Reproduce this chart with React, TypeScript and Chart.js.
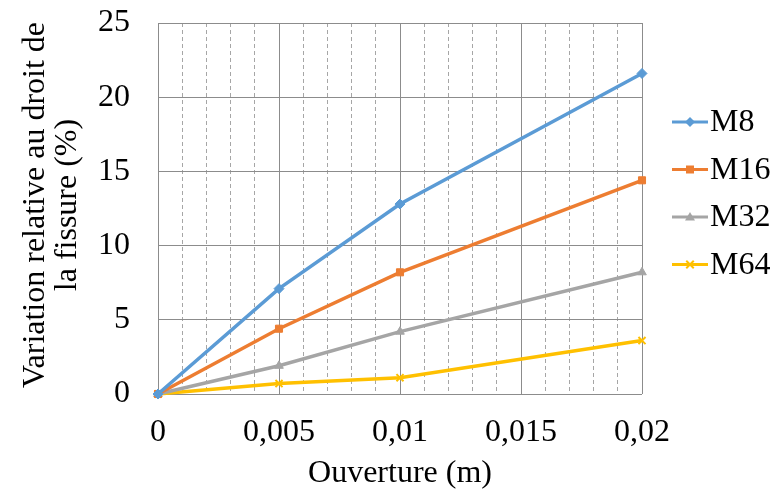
import React, { useEffect, useRef } from 'react';
import { Chart, registerables } from 'chart.js';
Chart.register(...registerables);

const xValues = [0, 0.005, 0.01, 0.02];
const m8 = [0, 7.1, 12.8, 21.6];
const m16 = [0, 4.4, 8.2, 14.4];
const m32 = [0, 1.9, 4.2, 8.2];
const m64 = [0, 0.7, 1.1, 3.6];
const seriesNames = ['M8', 'M16', 'M32', 'M64'];
const seriesValues = [m8, m16, m32, m64];
const seriesColors = ['#5B9BD5', '#ED7D31', '#A5A5A5', '#FFC000'];
const pointStyles = ['rectRot', 'rect', 'triangle', 'crossRot'];
const xTitle = 'Ouverture (m)';
const yTitle = ['Variation relative au droit de', 'la fissure (%)'];
const xMin = 0, xMax = 0.02, xMinorStep = 0.001, xMajorEvery = 5;
const yMin = 0, yMax = 25, yStep = 5;

const FONT = '"Liberation Serif", "Times New Roman", serif';
const FSIZE = 32;

function drawMarker(ctx: CanvasRenderingContext2D, style: string, x: number, y: number, r: number, color: string) {
  ctx.save();
  ctx.fillStyle = color;
  ctx.strokeStyle = color;
  ctx.lineWidth = 2;
  ctx.beginPath();
  if (style === 'rectRot') {
    ctx.moveTo(x, y - r); ctx.lineTo(x + r, y); ctx.lineTo(x, y + r); ctx.lineTo(x - r, y); ctx.closePath(); ctx.fill();
  } else if (style === 'rect') {
    const s = r * 0.8;
    ctx.rect(x - s, y - s, 2 * s, 2 * s); ctx.fill();
  } else if (style === 'triangle') {
    ctx.moveTo(x, y - r); ctx.lineTo(x + r, y + r * 0.7); ctx.lineTo(x - r, y + r * 0.7); ctx.closePath(); ctx.fill();
  } else {
    const s = r * 0.75;
    ctx.moveTo(x - s, y - s); ctx.lineTo(x + s, y + s); ctx.moveTo(x + s, y - s); ctx.lineTo(x - s, y + s); ctx.stroke();
  }
  ctx.restore();
}

const decorPlugin = {
  id: 'decor',
  afterDraw(chart: any) {
    const ctx: CanvasRenderingContext2D = chart.ctx;
    const area = chart.chartArea;
    ctx.save();
    ctx.fillStyle = '#000';
    ctx.font = `${FSIZE}px ${FONT}`;
    ctx.textAlign = 'center';
    ctx.textBaseline = 'middle';
    ctx.fillText(xTitle, (area.left + area.right) / 2, 474);
    ctx.save();
    ctx.translate(0, 205);
    ctx.rotate(-Math.PI / 2);
    ctx.fillText(yTitle[0], 0, 36);
    ctx.fillText(yTitle[1], 0, 68);
    ctx.restore();
    seriesNames.forEach((name, i) => {
      const y = 122 + i * 47.5;
      ctx.strokeStyle = seriesColors[i];
      ctx.lineWidth = 3;
      ctx.beginPath();
      ctx.moveTo(672, y);
      ctx.lineTo(708, y);
      ctx.stroke();
      drawMarker(ctx, pointStyles[i], 690, y, 5, seriesColors[i]);
      ctx.fillStyle = '#000';
      ctx.textAlign = 'left';
      ctx.fillText(name, 710, y + 1);
    });
    ctx.restore();
  },
};

const isMajor = (v: number) => Math.round(v / xMinorStep) % xMajorEvery === 0;

export default function App() {
  const ref = useRef<HTMLCanvasElement>(null);
  useEffect(() => {
    document.body.style.margin = '0';
    const chart = new Chart(ref.current!, {
      type: 'scatter',
      data: {
        datasets: seriesNames.map((name, i) => ({
          label: name,
          data: xValues.map((x, j) => ({ x, y: seriesValues[i][j] })),
          showLine: true,
          borderColor: seriesColors[i],
          backgroundColor: seriesColors[i],
          borderWidth: 3.5,
          pointStyle: pointStyles[i] as any,
          pointRadius: 5,
          pointBorderWidth: i === 3 ? 2 : 1,
          clip: false as any,
        })),
      },
      options: {
        responsive: false,
        animation: false,
        layout: { padding: { top: 23, right: 133, left: 0, bottom: 0 } },
        plugins: { legend: { display: false }, tooltip: { enabled: false } },
        scales: {
          x: {
            type: 'linear',
            min: xMin,
            max: xMax,
            afterFit: (s: any) => { s.height = 98; s.paddingLeft = 0; s.paddingRight = 0; },
            ticks: {
              stepSize: xMinorStep,
              autoSkip: false,
              maxRotation: 0,
              padding: 19,
              color: '#000',
              font: { family: FONT, size: FSIZE },
              callback: (v: any) => {
                const n = Number(v);
                if (!isMajor(n)) return '';
                const r = Math.round(n * 1000) / 1000;
                return r.toString().replace('.', ',');
              },
            },
            grid: {
              drawTicks: false,
              lineWidth: 1,
              color: (c: any) => (c.tick && isMajor(c.tick.value) ? '#8C8C8C' : '#A6A6A6'),
            },
            border: {
              display: false,
              dash: (c: any) => (c.tick && isMajor(c.tick.value) ? [] : [4, 3]),
            } as any,
          },
          y: {
            min: yMin,
            max: yMax,
            afterFit: (s: any) => { s.width = 158; s.paddingTop = 0; s.paddingBottom = 0; },
            ticks: {
              stepSize: yStep,
              padding: 28,
              color: '#000',
              font: { family: FONT, size: FSIZE },
            },
            grid: { drawTicks: false, color: '#8C8C8C', lineWidth: 1 },
            border: { display: true, color: '#8C8C8C' },
          },
        },
      },
      plugins: [decorPlugin],
    } as any);
    return () => chart.destroy();
  }, []);
  return (
    <div style={{ width: 775, height: 492, background: '#fff' }}>
      <canvas ref={ref} width={775} height={492} />
    </div>
  );
}
